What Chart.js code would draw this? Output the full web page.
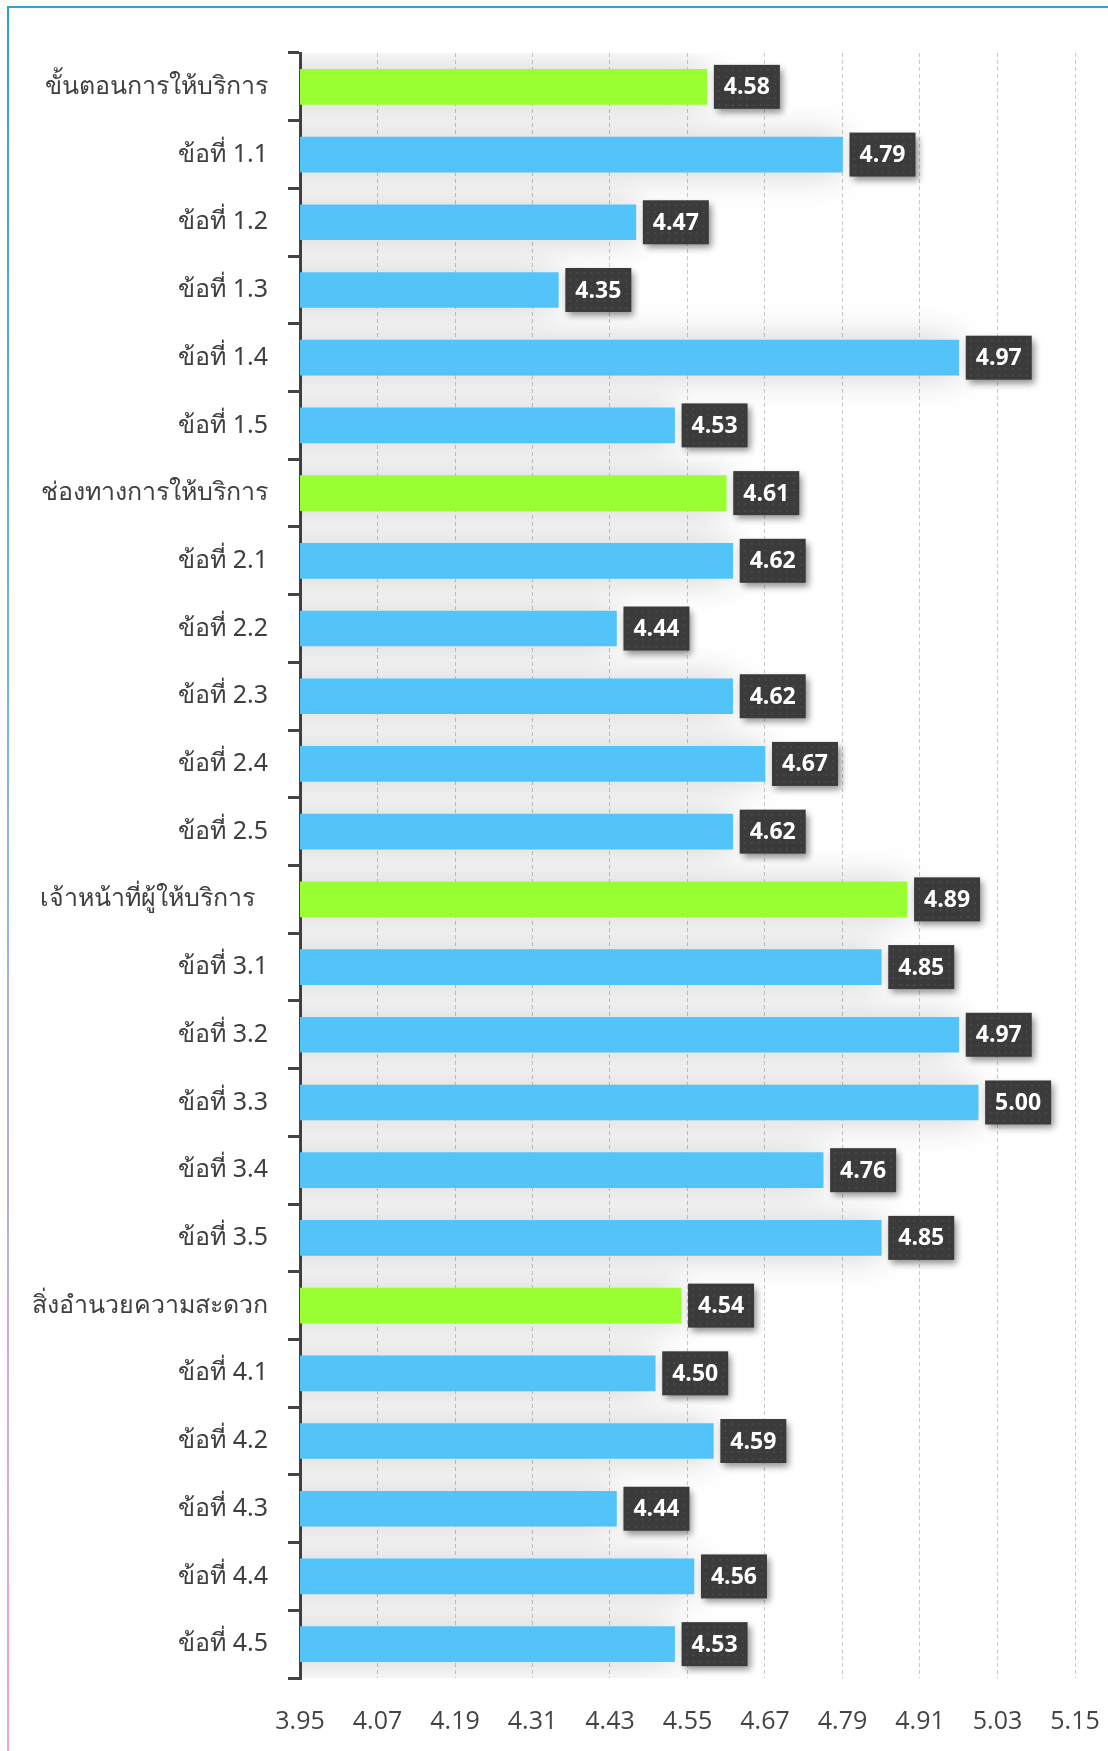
<!DOCTYPE html>
<html>
<head>
<meta charset="utf-8">
<script src="https://cdn.jsdelivr.net/npm/chart.js@4.4.1/dist/chart.umd.min.js"></script>
<style>
    body { margin: 0; background: #fff; }
    #wrap { position: relative; width: 1108px; height: 1751px; overflow: hidden; }
    #frameTop { position: absolute; left: 8px; top: 6px; right: 0; height: 2px; background: #2aa4dd; }
    #frameLeft { position: absolute; left: 7px; top: 6px; width: 2px; bottom: 0;
        background: linear-gradient(#2aa4dd, #8fb5e8 50%, #f7a1d3); }
    canvas { position: absolute; left: 0; top: 0; }
</style>
</head>
<body>
<div id="wrap">
    <div id="frameTop"></div>
    <div id="frameLeft"></div>
    <canvas id="myChart" width="1108" height="1751"></canvas>
</div>
<script>
(function () {
    "use strict";

    const categories = [
        'ขั้นตอนการให้บริการ', 'ข้อที่ 1.1', 'ข้อที่ 1.2', 'ข้อที่ 1.3', 'ข้อที่ 1.4', 'ข้อที่ 1.5',
        'ช่องทางการให้บริการ', 'ข้อที่ 2.1', 'ข้อที่ 2.2', 'ข้อที่ 2.3', 'ข้อที่ 2.4', 'ข้อที่ 2.5',
        'เจ้าหน้าที่ผู้ให้บริการ  ', 'ข้อที่ 3.1', 'ข้อที่ 3.2', 'ข้อที่ 3.3', 'ข้อที่ 3.4', 'ข้อที่ 3.5',
        'สิ่งอำนวยความสะดวก', 'ข้อที่ 4.1', 'ข้อที่ 4.2', 'ข้อที่ 4.3', 'ข้อที่ 4.4', 'ข้อที่ 4.5'
    ];
    const scores = [
        4.58, 4.79, 4.47, 4.35, 4.97, 4.53,
        4.61, 4.62, 4.44, 4.62, 4.67, 4.62,
        4.89, 4.85, 4.97, 5.00, 4.76, 4.85,
        4.54, 4.50, 4.59, 4.44, 4.56, 4.53
    ];
    const xTicks = [3.95, 4.07, 4.19, 4.31, 4.43, 4.55, 4.67, 4.79, 4.91, 5.03, 5.15];

    // headings (group rows) are green, items are blue
    const barColors = categories.map(c => c.indexOf('ข้อที่') === 0 ? '#52c4f9' : '#99ff33');

    const barGlow = {
        id: 'barGlow',
        beforeDatasetsDraw(chart) {
            const ctx = chart.ctx;
            ctx.save();
            ctx.shadowColor = 'rgba(0,0,0,0.2)';
            ctx.shadowBlur = 36;
            ctx.shadowOffsetX = 0;
            ctx.shadowOffsetY = 0;
        },
        afterDatasetsDraw(chart) {
            chart.ctx.restore();
        }
    };

    const valueBoxes = {
        id: 'valueBoxes',
        afterDatasetsDraw(chart) {
            const ctx = chart.ctx;
            const meta = chart.getDatasetMeta(0);
            ctx.save();
            ctx.font = 'bold 23px "Open Sans", sans-serif';
            ctx.textAlign = 'center';
            ctx.textBaseline = 'middle';
            meta.data.forEach((bar, i) => {
                const txt = scores[i].toFixed(2);
                const w = 66, h = 44;
                const x = bar.x + 7, y = bar.y - h / 2;
                ctx.save();
                ctx.shadowColor = 'rgba(0,0,0,0.45)';
                ctx.shadowBlur = 7;
                ctx.shadowOffsetX = 3;
                ctx.shadowOffsetY = 4;
                ctx.fillStyle = '#3b3b3b';
                ctx.fillRect(x, y, w, h);
                ctx.restore();
                // dotted texture
                ctx.fillStyle = 'rgba(255,255,255,0.07)';
                for (let dx = 4; dx < w; dx += 7) {
                    for (let dy = 4; dy < h; dy += 7) {
                        ctx.fillRect(x + dx, y + dy, 2, 2);
                    }
                }
                ctx.fillStyle = '#ffffff';
                ctx.fillText(txt, x + w / 2, bar.y + 1);
            });
            ctx.restore();
        }
    };

    const ctx = document.getElementById('myChart').getContext('2d');
    const chart = new Chart(ctx, {
        type: 'bar',
        data: {
            labels: categories,
            datasets: [{
                data: scores,
                backgroundColor: barColors,
                borderWidth: 0,
                barThickness: 35
            }]
        },
        options: {
            indexAxis: 'y',
            responsive: false,
            animation: false,
            layout: {
                padding: { top: 53, right: 33, bottom: 0, left: 0 }
            },
            plugins: {
                legend: { display: false },
                tooltip: { enabled: false }
            },
            scales: {
                x: {
                    min: 3.95,
                    max: 5.15,
                    afterBuildTicks: function (scale) {
                        scale.ticks = xTicks.map(v => ({ value: v }));
                    },
                    afterFit: function (scale) {
                        scale.height = 73;
                        scale.paddingLeft = 0;
                        scale.paddingRight = 0;
                    },
                    grid: {
                        color: '#c9c9c9',
                        lineWidth: 1,
                        drawTicks: false
                    },
                    border: { display: false, dash: [4, 3] },
                    ticks: {
                        padding: 29,
                        color: '#444',
                        font: { family: '"Liberation Sans Narrow", "Open Sans", sans-serif', size: 25 },
                        callback: function (v) { return Number(v).toFixed(2); }
                    }
                },
                y: {
                    afterFit: function (scale) {
                        scale.width = 300;
                    },
                    grid: {
                        offset: true,
                        drawOnChartArea: false,
                        color: '#444',
                        lineWidth: 3,
                        tickLength: 12
                    },
                    border: { color: '#444', width: 3 },
                    ticks: {
                        padding: 20,
                        color: '#3f3f3f',
                        font: { family: '"Noto Sans", "Open Sans", sans-serif', size: 25 }
                    }
                }
            }
        },
        plugins: [barGlow, valueBoxes]
    });
})();
</script>
</body>
</html>
